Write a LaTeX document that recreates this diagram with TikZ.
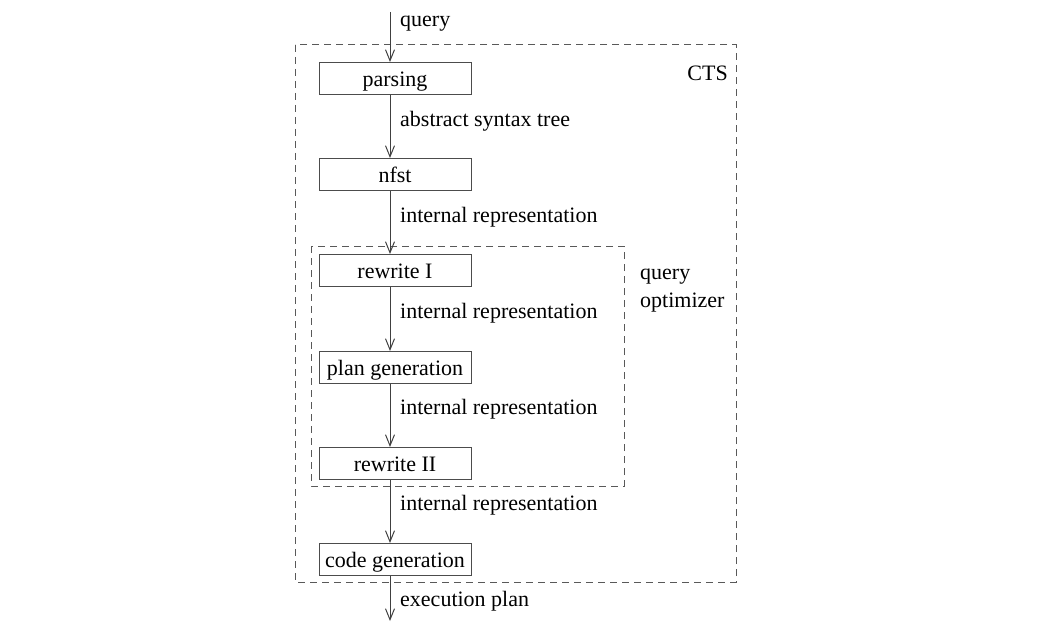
\documentclass[tikz,border=0pt]{standalone}
\usepackage{fontspec}
\setmainfont{Liberation Serif}
\usetikzlibrary{arrows.meta}
\begin{document}
\begin{tikzpicture}[x=1pt,y=-1pt,
  every node/.style={font=\fontsize{22}{26}\selectfont, inner sep=0pt},
  stage/.style={draw=black!70, line width=1pt, minimum width=152pt, minimum height=32pt, text height=19pt, text depth=3pt, anchor=north},
  flow/.style={draw=black!75, line width=1pt, -{Straight Barb[length=11pt,width=9pt,line width=1pt]}},
  lab/.style={anchor=west},
  grp/.style={draw=black!65, line width=1pt, dash pattern=on 7pt off 5pt}]
\useasboundingbox (0,0) rectangle (1051,639);
% groups
\draw[grp] (295,45) rectangle (736,582);
\draw[grp] (311,246) rectangle (624,486);
\node[anchor=east] (cts) at (728,73) {CTS};
\node[anchor=north west, align=left, font=\fontsize{22}{28}\selectfont] (qo) at (640,269) {query\\optimizer};
% stages
\node[stage] (parsing) at (395,62) {parsing};
\node[stage] (nfst) at (395,158) {nfst};
\node[stage] (rw1) at (395,254) {rewrite I};
\node[stage] (plan) at (395,351) {plan generation};
\node[stage] (rw2) at (395,447) {rewrite II};
\node[stage] (code) at (395,543) {code generation};
\coordinate (in) at (390,12);
\coordinate (out) at (390,621);
\draw[flow] (in) -- (in |- parsing.north);
\draw[flow] (parsing.south -| in) -- (nfst.north -| in);
\draw[flow] (nfst.south -| in) -- (rw1.north -| in);
\draw[flow] (rw1.south -| in) -- (plan.north -| in);
\draw[flow] (plan.south -| in) -- (rw2.north -| in);
\draw[flow] (rw2.south -| in) -- (code.north -| in);
\draw[flow] (code.south -| in) -- (out);
\node[lab] (l0) at (400,24) {query};
\node[lab] (l1) at (400,121) {abstract syntax tree};
\node[lab] (l2) at (400,217) {internal representation};
\node[lab] (l3) at (400,313) {internal representation};
\node[lab] (l4) at (400,409) {internal representation};
\node[lab] (l5) at (400,505) {internal representation};
\node[lab] (l6) at (400,601) {execution plan};
\end{tikzpicture}
\end{document}
